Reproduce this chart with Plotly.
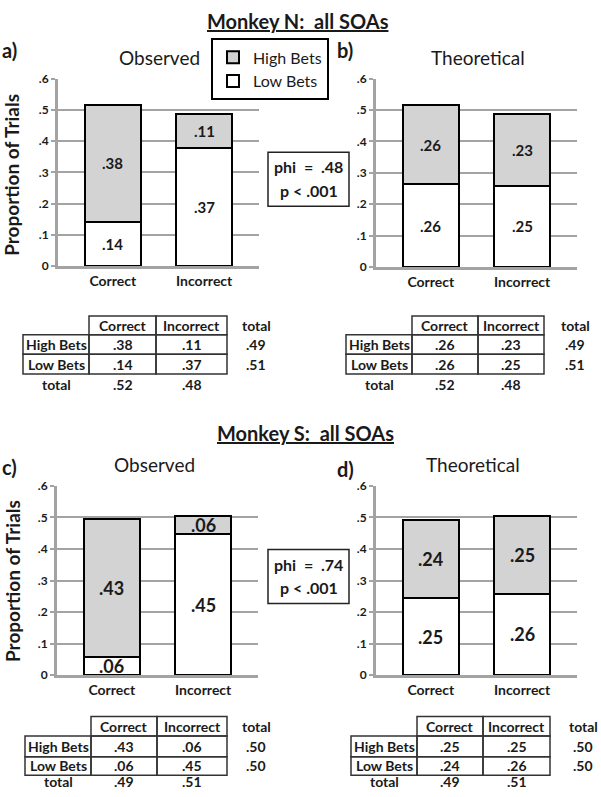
import plotly.graph_objects as go

# ---------------- data ----------------
categories = ["Correct", "Incorrect"]
series_names = ["High Bets", "Low Bets"]

# bar segment heights (proportion of trials)
n_obs_high = [0.375, 0.110]
n_obs_low = [0.141, 0.378]
n_theo_high = [0.254, 0.229]
n_theo_low = [0.263, 0.259]
s_obs_high = [0.438, 0.058]
s_obs_low = [0.058, 0.446]
s_theo_high = [0.248, 0.248]
s_theo_low = [0.245, 0.258]

# printed labels inside the bars
n_obs_high_lbl = [".38", ".11"]
n_obs_low_lbl = [".14", ".37"]
n_theo_high_lbl = [".26", ".23"]
n_theo_low_lbl = [".26", ".25"]
s_obs_high_lbl = [".43", ".06"]
s_obs_low_lbl = [".06", ".45"]
s_theo_high_lbl = [".24", ".25"]
s_theo_low_lbl = [".25", ".26"]

ytick_vals = [0, 0.1, 0.2, 0.3, 0.4, 0.5, 0.6]
ytick_text = ["0", ".1", ".2", ".3", ".4", ".5", ".6"]

# contingency tables
table_cols = ["Correct", "Incorrect"]
table_rows = ["High Bets", "Low Bets"]
n_obs_table = [[".38", ".11"], [".14", ".37"]]
n_obs_row_tot = [".49", ".51"]
n_obs_col_tot = [".52", ".48"]
n_theo_table = [[".26", ".23"], [".26", ".25"]]
n_theo_row_tot = [".49", ".51"]
n_theo_col_tot = [".52", ".48"]
s_obs_table = [[".43", ".06"], [".06", ".45"]]
s_obs_row_tot = [".50", ".50"]
s_obs_col_tot = [".49", ".51"]
s_theo_table = [[".25", ".25"], [".24", ".26"]]
s_theo_row_tot = [".50", ".50"]
s_theo_col_tot = [".49", ".51"]

phi_n = ".48"
phi_s = ".74"
p_text = "p &lt; .001"

# ---------------- layout helpers ----------------
W, H = 601, 797
FONT = "Lato"
GRID = "#a3a3a3"
HIGH = "#d3d3d3"
INK = "#1a1a1a"


def px(x):
    return x / W


def py(y):
    return 1 - y / H


fig = go.Figure()

panels = [
    dict(n="", high=n_obs_high, low=n_obs_low, hl=n_obs_high_lbl, ll=n_obs_low_lbl,
         xd=(58, 259), yd=(72, 263), fs=15, legend=True),
    dict(n="2", high=n_theo_high, low=n_theo_low, hl=n_theo_high_lbl, ll=n_theo_low_lbl,
         xd=(376, 577), yd=(72, 264), fs=15, legend=False),
    dict(n="3", high=s_obs_high, low=s_obs_low, hl=s_obs_high_lbl, ll=s_obs_low_lbl,
         xd=(57, 258), yd=(487, 680), fs=18, legend=False),
    dict(n="4", high=s_theo_high, low=s_theo_low, hl=s_theo_high_lbl, ll=s_theo_low_lbl,
         xd=(376, 577), yd=(487, 680), fs=18, legend=False),
]

annotations = []
shapes = []

for p in panels:
    xa = "x" + p["n"]
    ya = "y" + p["n"]
    fig.add_trace(go.Bar(
        x=categories, y=p["low"], name=series_names[1], xaxis=xa, yaxis=ya,
        marker=dict(color="white", line=dict(color="black", width=2)),
        width=0.61, showlegend=p["legend"], legendrank=2, hoverinfo="skip"))
    fig.add_trace(go.Bar(
        x=categories, y=p["high"], name=series_names[0], xaxis=xa, yaxis=ya,
        marker=dict(color=HIGH, line=dict(color="black", width=2)),
        width=0.61, showlegend=p["legend"], legendrank=1, hoverinfo="skip"))
    # value labels centred in each segment
    for c, lo, hi, llbl, hlbl in zip(categories, p["low"], p["high"], p["ll"], p["hl"]):
        annotations.append(dict(x=c, y=lo / 2, xref=xa, yref=ya, text=llbl, showarrow=False,
                                font=dict(family=FONT, size=p["fs"], color=INK, weight="bold")))
        annotations.append(dict(x=c, y=lo + hi / 2, xref=xa, yref=ya, text=hlbl, showarrow=False,
                                font=dict(family=FONT, size=p["fs"], color=INK, weight="bold")))
    xkey = "xaxis" + p["n"]
    ykey = "yaxis" + p["n"]
    fig.update_layout({
        xkey: dict(domain=[px(p["xd"][0]), px(p["xd"][1])], anchor=ya, range=[-0.6, 1.6],
                   showline=True, linecolor=GRID, linewidth=3, ticks="", showgrid=False,
                   zeroline=False, fixedrange=True,
                   tickfont=dict(family=FONT, size=14, color=INK, weight="bold")),
        ykey: dict(domain=[py(p["yd"][1]), py(p["yd"][0])], anchor=xa, range=[0, 0.6001],
                   tickvals=ytick_vals, ticktext=ytick_text, showgrid=True, gridcolor=GRID,
                   gridwidth=2, showline=True, linecolor=GRID, linewidth=3, ticks="outside",
                   ticklen=4, tickwidth=2, tickcolor=GRID, zeroline=False, fixedrange=True,
                   tickfont=dict(family=FONT, size=12, color=INK, weight="bold")),
    })


def text(x, y, t, size, weight="normal", xanchor="center", angle=0):
    annotations.append(dict(x=px(x), y=py(y), xref="paper", yref="paper", text=t,
                            showarrow=False, xanchor=xanchor, yanchor="middle", textangle=angle,
                            font=dict(family=FONT, size=size, color=INK, weight=weight)))


# main titles
text(298, 13, "<u>Monkey N:\u00a0 all SOAs</u>", 20, "bold")
text(305, 433, "<u>Monkey S:\u00a0 all SOAs</u>", 20, "bold")

# panel letters and sub titles
for lab, x, y in [("a)", 0, 43), ("b)", 335, 43), ("c)", 0, 468), ("d)", 335, 470)]:
    text(x, y, lab, 20, "bold", xanchor="left")
for t, x, y in [("Observed", 159, 50), ("Theoretical", 478, 50),
                ("Observed", 154, 465), ("Theoretical", 473, 465)]:
    text(x, y, t, 19)

# y axis titles
text(12, 170, "Proportion of Trials", 19, "bold", angle=-90)
text(12, 584, "Proportion of Trials", 19, "bold", angle=-90)

# phi boxes
for val, y0, y1 in [(phi_n, 147, 202), (phi_s, 552, 607)]:
    shapes.append(dict(type="rect", xref="paper", yref="paper", x0=px(268), x1=px(349),
                       y0=py(y0), y1=py(y1), line=dict(color="#222", width=1.5)))
    text(308.5, y0 + 15, "phi\u00a0 =\u00a0 " + val, 16, "bold")
    text(308.5, y0 + 39, p_text, 16, "bold")


# tables
def draw_table(xs, ys, ytot, xtot, values, row_tot, col_tot):
    x0, x1, x2, x3 = xs
    r0, r1, r2, r3 = ys
    ln = dict(color="#333", width=1.5)
    for a, b in [(x1, x2), (x2, x3)]:
        shapes.append(dict(type="rect", xref="paper", yref="paper", x0=px(a), x1=px(b),
                           y0=py(r1), y1=py(r0), line=ln))
    for ra, rb in [(r1, r2), (r2, r3)]:
        for a, b in [(x0, x1), (x1, x2), (x2, x3)]:
            shapes.append(dict(type="rect", xref="paper", yref="paper", x0=px(a), x1=px(b),
                               y0=py(rb), y1=py(ra), line=ln))
    colc = [(x1 + x2) / 2, (x2 + x3) / 2]
    labc = (x0 + x1) / 2
    fs = 14
    for c, name in zip(colc, table_cols):
        text(c, (r0 + r1) / 2, name, fs, "bold")
    text(xtot, (r0 + r1) / 2, "total", fs, "bold")
    for i, (ra, rb) in enumerate([(r1, r2), (r2, r3)]):
        yc = (ra + rb) / 2
        text(labc, yc, table_rows[i], fs, "bold")
        for j, c in enumerate(colc):
            text(c, yc, values[i][j], fs, "bold")
        text(xtot, yc, row_tot[i], fs, "bold")
    text(labc, ytot, "total", fs, "bold")
    for j, c in enumerate(colc):
        text(c, ytot, col_tot[j], fs, "bold")


draw_table((23, 89, 156, 227), (314, 333, 353, 373), 384, 256, n_obs_table, n_obs_row_tot, n_obs_col_tot)
draw_table((346, 412, 478, 544), (314, 333, 353, 373), 384, 575, n_theo_table, n_theo_row_tot, n_theo_col_tot)
draw_table((25, 91, 157, 227), (722, 742, 763, 782), 788, 256, s_obs_table, s_obs_row_tot, s_obs_col_tot)
draw_table((351, 417, 483, 550), (722, 742, 763, 782), 788, 583, s_theo_table, s_theo_row_tot, s_theo_col_tot)

fig.update_layout(
    width=W, height=H, margin=dict(l=0, r=0, t=0, b=0),
    paper_bgcolor="white", plot_bgcolor="white",
    barmode="stack", bargap=0.4,
    font=dict(family=FONT, color=INK),
    showlegend=True,
    legend=dict(x=px(211), y=py(31), xanchor="left", yanchor="top",
                bordercolor="black", borderwidth=2, bgcolor="white",
                traceorder="normal", font=dict(family=FONT, size=16, color=INK),
                itemclick=False, itemdoubleclick=False),
    annotations=annotations, shapes=shapes,
)

fig.write_html("out.html", config={"displayModeBar": False},
               post_script="document.body.style.margin='0';document.body.style.overflow='hidden';")
